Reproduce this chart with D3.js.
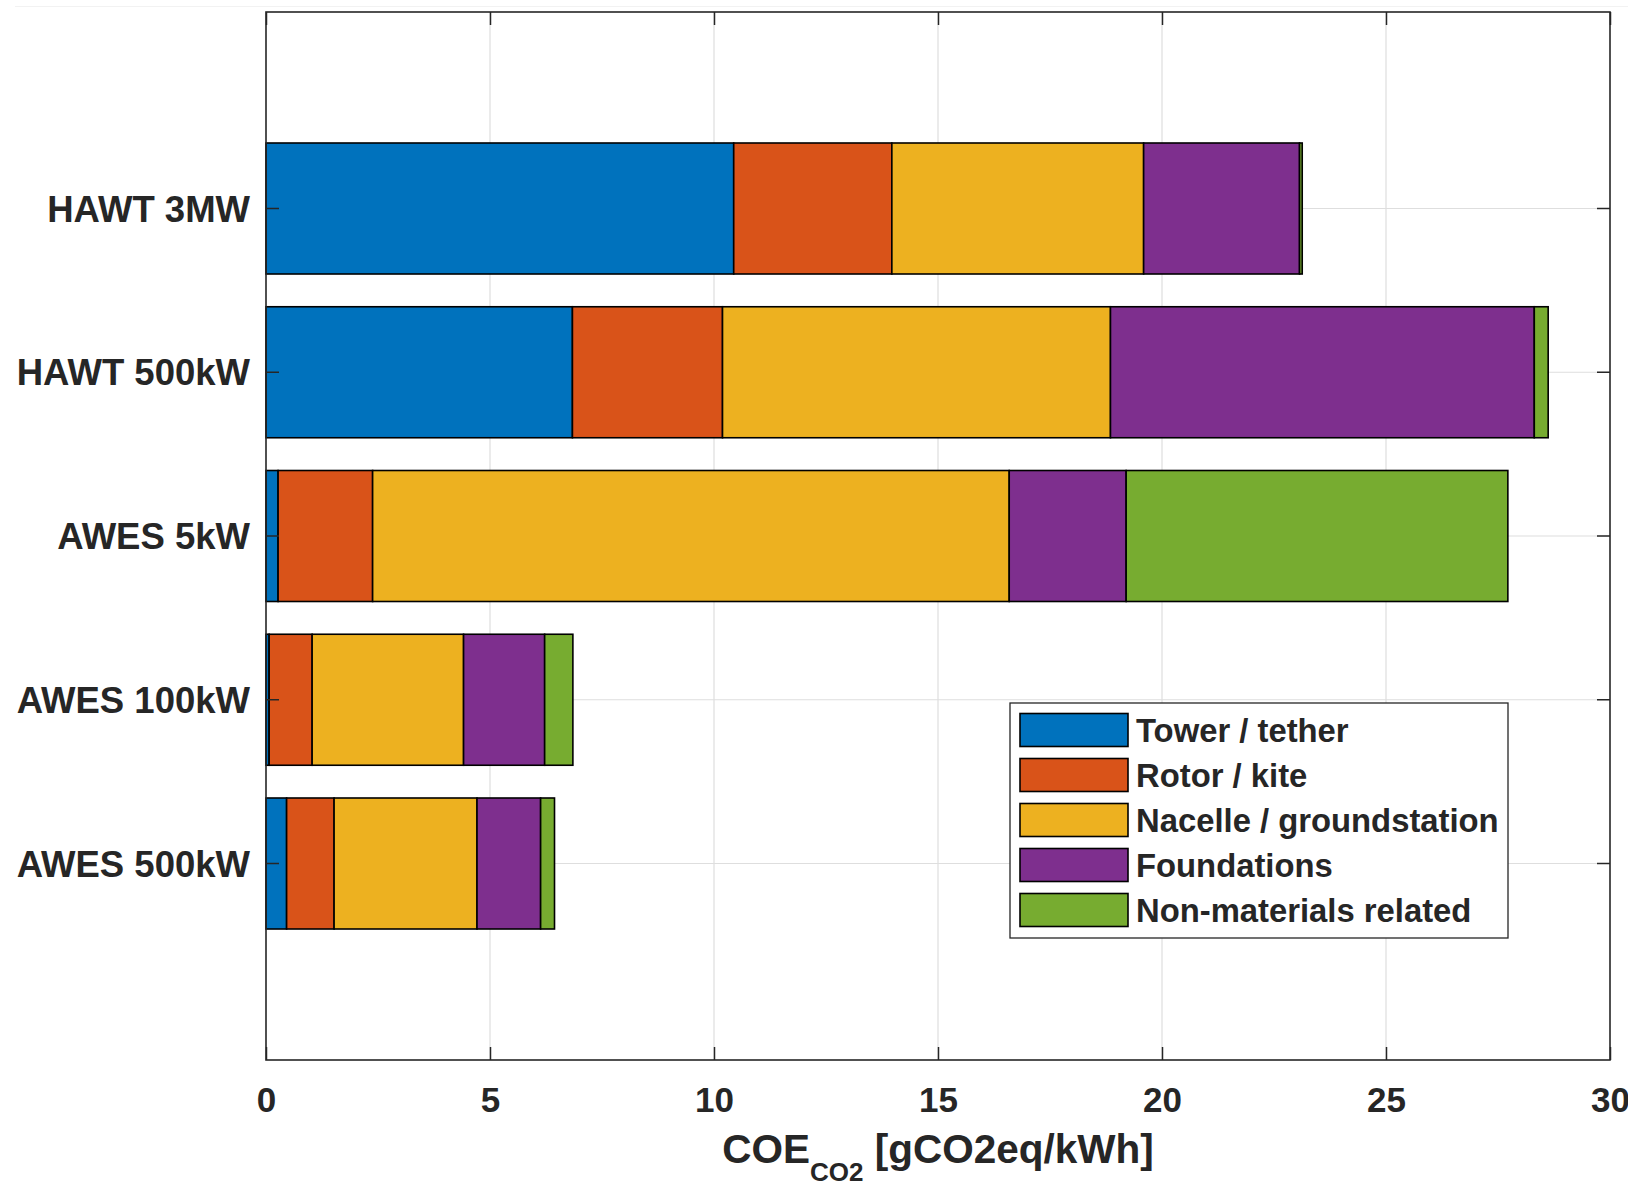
<!DOCTYPE html>
<html>
<head>
<meta charset="utf-8">
<script src="https://cdn.jsdelivr.net/npm/d3@7"></script>
<style>
  html, body { margin: 0; padding: 0; background: #fff; }
  svg { display: block; }
  text { font-family: "Liberation Sans", Arial, Helvetica, sans-serif; font-weight: bold; fill: #262626; }
</style>
</head>
<body>
<svg id="chart" width="1628" height="1186"></svg>
<script>
// ---- data ----
const categories = ["HAWT 3MW", "HAWT 500kW", "AWES 5kW", "AWES 100kW", "AWES 500kW"];
const seriesNames = ["Tower / tether", "Rotor / kite", "Nacelle / groundstation", "Foundations", "Non-materials related"];
const towerTether      = [10.44, 6.84, 0.27, 0.07, 0.46];
const rotorKite        = [3.53, 3.35, 2.11, 0.96, 1.06];
const nacelleGround    = [5.62, 8.66, 14.21, 3.38, 3.19];
const foundations      = [3.48, 9.46, 2.61, 1.81, 1.42];
const nonMaterials     = [0.06, 0.31, 8.52, 0.63, 0.31];
const xTicks = [0, 5, 10, 15, 20, 25, 30];
const colors = ["#0072BD", "#D95319", "#EDB120", "#7E2F8E", "#77AC30"];

const seriesValues = [towerTether, rotorKite, nacelleGround, foundations, nonMaterials];

// ---- layout ----
const svg = d3.select("#chart");
const L = 266, R = 1610, T = 12, B = 1060;
const ink = "#262626";

const x = d3.scaleLinear().domain([0, 30]).range([L, R]);
const y = d3.scaleBand().domain(categories).range([T, B]).paddingInner(0.2).paddingOuter(0.8);

// faint outer frame artefact
svg.append("line").attr("x1", 15).attr("x2", 1628).attr("y1", 6.5).attr("y2", 6.5)
   .attr("stroke", "#f2f2f2").attr("stroke-width", 1);

// grid
const grid = svg.append("g");
grid.selectAll("line.gx").data(xTicks.slice(1, -1)).join("line")
  .attr("x1", d => x(d)).attr("x2", d => x(d)).attr("y1", T).attr("y2", B)
  .attr("stroke", "#dedede").attr("stroke-width", 1.2);
grid.selectAll("line.gy").data(categories).join("line")
  .attr("x1", L).attr("x2", R)
  .attr("y1", d => y(d) + y.bandwidth() / 2).attr("y2", d => y(d) + y.bandwidth() / 2)
  .attr("stroke", "#dedede").attr("stroke-width", 1.2);

// stacked bars
const rows = categories.map((c, i) => {
  const o = { cat: c };
  seriesNames.forEach((s, j) => { o[s] = seriesValues[j][i]; });
  return o;
});
const stacked = d3.stack().keys(seriesNames)(rows);

svg.append("g").selectAll("g").data(stacked).join("g")
  .attr("fill", (d, i) => colors[i])
  .selectAll("rect").data(d => d).join("rect")
  .attr("x", d => x(d[0]))
  .attr("width", d => x(d[1]) - x(d[0]))
  .attr("y", d => y(d.data.cat))
  .attr("height", y.bandwidth())
  .attr("stroke", "#000").attr("stroke-width", 1.6);

// axes box
const tickLen = 13;
const ax = svg.append("g");
const xAxisB = d3.axisBottom(x).tickValues(xTicks).tickSize(-tickLen).tickFormat(d3.format("d")).tickPadding(0);
const gB = ax.append("g").attr("transform", `translate(0,${B})`).call(xAxisB);
gB.select(".domain").remove();
gB.selectAll("line").attr("stroke", ink).attr("stroke-width", 1.5);
gB.selectAll("text").attr("font-size", 35).attr("y", 52).attr("dy", 0).attr("fill", ink)
  .style("font-family", '"Liberation Sans", Arial, sans-serif').style("font-weight", "bold");

const xAxisT = d3.axisTop(x).tickValues(xTicks).tickSize(-tickLen).tickFormat("");
const gT = ax.append("g").attr("transform", `translate(0,${T})`).call(xAxisT);
gT.select(".domain").remove();
gT.selectAll("line").attr("stroke", ink).attr("stroke-width", 1.5);

const yAxisL = d3.axisLeft(y).tickSize(-tickLen).tickPadding(16);
const gL = ax.append("g").attr("transform", `translate(${L},0)`).call(yAxisL);
gL.select(".domain").remove();
gL.selectAll("line").attr("stroke", ink).attr("stroke-width", 1.5);
gL.selectAll("text").attr("font-size", 36.5).attr("x", -16).attr("dy", "0.36em").attr("fill", ink)
  .style("font-family", '"Liberation Sans", Arial, sans-serif').style("font-weight", "bold");

const yAxisR = d3.axisRight(y).tickSize(-tickLen).tickFormat("");
const gR = ax.append("g").attr("transform", `translate(${R},0)`).call(yAxisR);
gR.select(".domain").remove();
gR.selectAll("line").attr("stroke", ink).attr("stroke-width", 1.5);

ax.append("rect").attr("x", L).attr("y", T).attr("width", R - L).attr("height", B - T)
  .attr("fill", "none").attr("stroke", ink).attr("stroke-width", 1.6);

// x label
const xl = svg.append("text").attr("x", (L + R) / 2).attr("y", 1163).attr("text-anchor", "middle")
  .attr("font-size", 40.5);
xl.append("tspan").text("COE");
xl.append("tspan").attr("font-size", 26).attr("dy", 18).text("CO2");
xl.append("tspan").attr("dy", -18).text(" [gCO2eq/kWh]");

// legend
const lg = svg.append("g");
lg.append("rect").attr("x", 1010).attr("y", 703).attr("width", 498).attr("height", 235)
  .attr("fill", "#fff").attr("stroke", ink).attr("stroke-width", 1.3);
const lgY = d3.scaleLinear().domain([0, 4]).range([730, 910]);
const items = lg.selectAll("g").data(seriesNames).join("g")
  .attr("transform", (d, i) => `translate(0,${lgY(i)})`);
items.append("rect").attr("x", 1020).attr("y", -16.5).attr("width", 108).attr("height", 33)
  .attr("fill", (d, i) => colors[i]).attr("stroke", "#000").attr("stroke-width", 1.6);
items.append("text").attr("x", 1136).attr("y", 0).attr("dy", "0.36em").attr("font-size", 32.8)
  .text(d => d);
</script>
</body>
</html>
